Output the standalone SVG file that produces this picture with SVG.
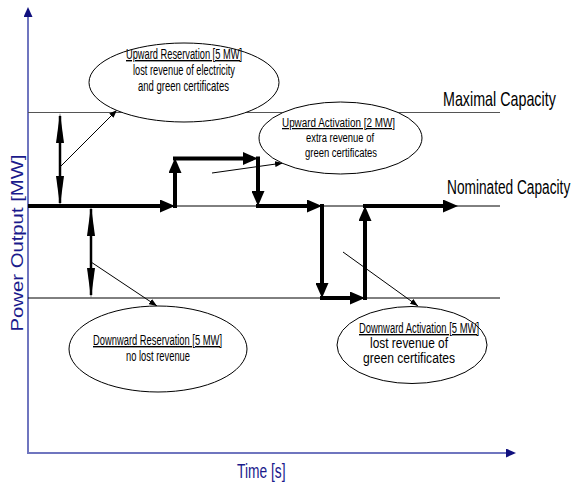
<svg xmlns="http://www.w3.org/2000/svg" width="576" height="486" viewBox="0 0 576 486">
<style>
.axis{stroke:#6f75bf;stroke-width:2;fill:none}
.ref{stroke:#000;stroke-width:1;fill:none}
.refmax{stroke:#555;stroke-width:1;fill:none}
.thick{stroke:#000;stroke-width:4;fill:none;marker-end:url(#bigHead)}
.dbl{stroke:#000;stroke-width:2.5;fill:none;marker-start:url(#longHead);marker-end:url(#longHead)}
.thin{stroke:#000;stroke-width:1;fill:none;marker-end:url(#smallHead)}
.ell{fill:#fff;stroke:#000;stroke-width:1}
.et{font-family:"Liberation Sans",Arial,sans-serif;font-size:14px;fill:#000;text-anchor:middle}
.sm{font-size:12.5px}
.ul{text-decoration:underline}
.lab{font-family:"Liberation Sans",Arial,sans-serif;font-size:20px;fill:#000}
.axl{font-family:"Liberation Sans",Arial,sans-serif;font-size:17px;fill:#1a1a8c}
.axt{font-family:"Liberation Sans",Arial,sans-serif;font-size:20px;fill:#1a1a8c}
</style>
<defs>
<marker id="bigHead" markerUnits="userSpaceOnUse" markerWidth="15" markerHeight="13" refX="10" refY="6.5" orient="auto">
<path d="M0,0 L15,6.5 L0,13 z" fill="#000"/>
</marker>
<marker id="longHead" markerUnits="userSpaceOnUse" markerWidth="30" markerHeight="8" refX="27" refY="4" orient="auto-start-reverse">
<path d="M0,0 L30,4 L0,8 z" fill="#000"/>
</marker>
<marker id="smallHead" markerUnits="userSpaceOnUse" markerWidth="8" markerHeight="6" refX="8" refY="3" orient="auto">
<path d="M0,0 L8,3 L0,6 z" fill="#000"/>
</marker>
<marker id="axHead" markerUnits="userSpaceOnUse" markerWidth="10" markerHeight="9" refX="8" refY="4.5" orient="auto">
<path d="M0,0 L10,4.5 L0,9 z" fill="#10107e"/>
</marker>
</defs>

<g id="axes">
<line class="axis" x1="28" y1="453" x2="28" y2="9" marker-end="url(#axHead)"/>
<line class="axis" x1="27" y1="453" x2="514" y2="453" marker-end="url(#axHead)"/>
<text class="axl" transform="translate(23,243) rotate(-90)" text-anchor="middle" textLength="177" lengthAdjust="spacingAndGlyphs">Power Output [MW]</text>
<text class="axt" transform="translate(237,478) scale(0.69,1)">Time [s]</text>
</g>

<g id="levels">
<line class="refmax" x1="28" y1="112.5" x2="500" y2="112.5"/>
<line class="ref" x1="28" y1="206" x2="500" y2="206"/>
<line class="ref" x1="28" y1="298" x2="500" y2="298"/>
<text class="lab" transform="translate(443,106) scale(0.715,1)">Maximal Capacity</text>
<text class="lab" transform="translate(447,194) scale(0.685,1)">Nominated Capacity</text>
</g>

<g id="connectors">
<line class="thick" x1="28" y1="206" x2="170" y2="206"/>
<line class="thick" x1="175" y1="208" x2="175" y2="163"/>
<line class="thick" x1="173" y1="158.5" x2="253" y2="158.5"/>
<line class="thick" x1="258" y1="156.5" x2="258" y2="201"/>
<line class="thick" x1="256" y1="206" x2="317" y2="206"/>
<line class="thick" x1="322" y1="204" x2="322" y2="293"/>
<line class="thick" x1="320" y1="298" x2="360" y2="298"/>
<line class="thick" x1="365" y1="300" x2="365" y2="211"/>
<line class="thick" x1="363" y1="206" x2="453" y2="206"/>
<line class="dbl" x1="60" y1="116" x2="60" y2="203"/>
<line class="dbl" x1="91" y1="209" x2="91" y2="295"/>
<line class="thin" x1="60" y1="167" x2="117" y2="110"/>
<line class="thin" x1="91" y1="262" x2="157" y2="306"/>
<line class="thin" x1="212" y1="173" x2="283" y2="163"/>
<line class="thin" x1="343" y1="252" x2="418" y2="306"/>
</g>

<g id="upward-reservation">
<ellipse class="ell" cx="184" cy="82.5" rx="95" ry="39.5"/>
<text class="et ul" x="184" y="59" textLength="116" lengthAdjust="spacingAndGlyphs">Upward Reservation [5 MW]</text>
<text class="et" x="184" y="75" textLength="102" lengthAdjust="spacingAndGlyphs">lost revenue of electricity</text>
<text class="et" x="183.5" y="91" textLength="91" lengthAdjust="spacingAndGlyphs">and green certificates</text>
</g>

<g id="upward-activation">
<ellipse class="ell" cx="340.5" cy="138" rx="81.5" ry="36"/>
<text class="et sm ul" x="338.5" y="127" textLength="113" lengthAdjust="spacingAndGlyphs">Upward Activation [2 MW]</text>
<text class="et sm" x="340" y="142" textLength="68" lengthAdjust="spacingAndGlyphs">extra revenue of</text>
<text class="et sm" x="341" y="157" textLength="72" lengthAdjust="spacingAndGlyphs">green certificates</text>
</g>

<g id="downward-reservation">
<ellipse class="ell" cx="158" cy="349" rx="89" ry="43"/>
<text class="et ul" x="157.5" y="345" textLength="129" lengthAdjust="spacingAndGlyphs">Downward Reservation [5 MW]</text>
<text class="et" x="158" y="361" textLength="64" lengthAdjust="spacingAndGlyphs">no lost revenue</text>
</g>

<g id="downward-activation">
<ellipse class="ell" cx="412" cy="345" rx="75" ry="38.5"/>
<text class="et ul" x="419" y="333" textLength="120" lengthAdjust="spacingAndGlyphs">Downward Activation [5 MW]</text>
<text class="et" x="409" y="348" textLength="78" lengthAdjust="spacingAndGlyphs">lost revenue of</text>
<text class="et" x="409" y="363" textLength="92" lengthAdjust="spacingAndGlyphs">green certificates</text>
</g>
</svg>
